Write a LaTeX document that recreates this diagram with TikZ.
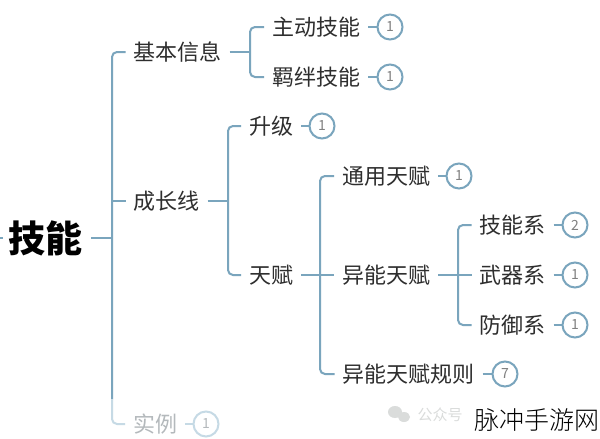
\documentclass[tikz,border=0pt]{standalone}
\usepackage{fontspec}
\setmainfont{Noto Sans CJK SC}
\newfontfamily\sitefont[UprightFont=* Light]{Noto Sans CJK SC}
\usepackage{xcolor}
\usepackage{tikz}
\usetikzlibrary{positioning}
\definecolor{wireblue}{HTML}{7AA5BD}
\definecolor{fadeblue}{HTML}{C6DAE5}
\definecolor{inkdark}{HTML}{2E2E2E}
\definecolor{inkfade}{HTML}{B4B9BC}
\definecolor{markgray}{HTML}{DADCDB}
\tikzset{
  topic/.style={inner sep=0pt, outer sep=8pt, text=inkdark, font=\fontsize{22}{22}\selectfont},
  count/.style={circle, draw=wireblue, line width=2pt, fill=white, inner sep=0pt, minimum size=25pt, text=gray, font=\fontsize{14}{14}\selectfont},
  wire/.style={draw=wireblue, line width=2pt, rounded corners=5pt},
  fadewire/.style={draw=fadeblue, line width=2pt, rounded corners=5pt},
}
\begin{document}
\begin{tikzpicture}[x=1pt, y=-1pt]
\useasboundingbox [fill=white] (0, 0) rectangle (600, 439);
\node [topic, text=black, font=\fontsize{37}{37}\selectfont\bfseries] (root) at (46, 238) {技能};
\node [topic] (info) at (177.5, 52) {基本信息};
\node [topic] (active) at (316, 27) {主动技能};
\node [topic] (bond) at (316, 77) {羁绊技能};
\node [topic] (growth) at (166.5, 201) {成长线};
\node [topic] (levelup) at (271, 126) {升级};
\node [topic] (talent) at (271, 275) {天赋};
\node [topic] (common) at (386, 176) {通用天赋};
\node [topic] (special) at (386, 275) {异能天赋};
\node [topic] (rules) at (408.5, 374) {异能天赋规则};
\node [topic] (skillset) at (512.5, 225) {技能系};
\node [topic] (weapon) at (512.5, 275) {武器系};
\node [topic] (defense) at (512.5, 325) {防御系};
\node [topic, text=inkfade] (example) at (155, 424) {实例};
\node [count] (nactive) at (390, 27) {1};
\node [count] (nbond) at (390, 77) {1};
\node [count] (nlevelup) at (322, 126) {1};
\node [count] (ncommon) at (459, 176) {1};
\node [count] (nrules) at (505, 374) {7};
\node [count] (nskillset) at (575, 225) {2};
\node [count] (nweapon) at (575, 275) {1};
\node [count] (ndefense) at (575, 325) {1};
\node [count, draw=fadeblue, text=inkfade] (nexample) at (206, 424) {1};
\coordinate (trunk) at (112, 399);
\coordinate (rootstub) at (0, 238);
\coordinate (infobus) at (250, 52);
\coordinate (growbus) at (228, 201);
\coordinate (talentbus) at (320, 275);
\coordinate (specialbus) at (458, 275);
% trunk
\draw [wire] (info.west) -| (trunk);
\draw [fadewire] (trunk) |- (example.west);
\draw [wire] (root.east) -- (root.east -| trunk);
\draw [wire] (growth.west) -- (growth.west -| trunk);
\draw [wire] (rootstub) -- +(3, 0);
% branches
\draw [wire] (info.east) -- (infobus);
\draw [wire] (active.west) -| (infobus) |- (bond.west);
\draw [wire] (growth.east) -- (growbus);
\draw [wire] (levelup.west) -| (growbus) |- (talent.west);
\draw [wire] (talent.east) -- (talentbus);
\draw [wire] (common.west) -| (talentbus) |- (rules.west);
\draw [wire] (talentbus) -- (special.west);
\draw [wire] (special.east) -- (specialbus);
\draw [wire] (skillset.west) -| (specialbus) |- (defense.west);
\draw [wire] (specialbus) -- (weapon.west);
% counts
\draw [wire] (active) -- (nactive);
\draw [wire] (bond) -- (nbond);
\draw [wire] (levelup) -- (nlevelup);
\draw [wire] (common) -- (ncommon);
\draw [wire] (rules) -- (nrules);
\draw [wire] (skillset) -- (nskillset);
\draw [wire] (weapon) -- (nweapon);
\draw [wire] (defense) -- (ndefense);
\draw [fadewire] (example) -- (nexample);
% watermark
\fill [markgray] (395, 412) ellipse [x radius=7, y radius=6];
\fill [markgray] (404, 417) ellipse [x radius=6, y radius=5];
\node [inner sep=0pt, text=markgray, font=\fontsize{15}{15}\selectfont] (mark) at (440, 415) {公众号};
\node [inner sep=0pt, text=black, font=\fontsize{25}{25}\sitefont] (site) at (537, 420) {脉冲手游网};
\end{tikzpicture}
\end{document}
